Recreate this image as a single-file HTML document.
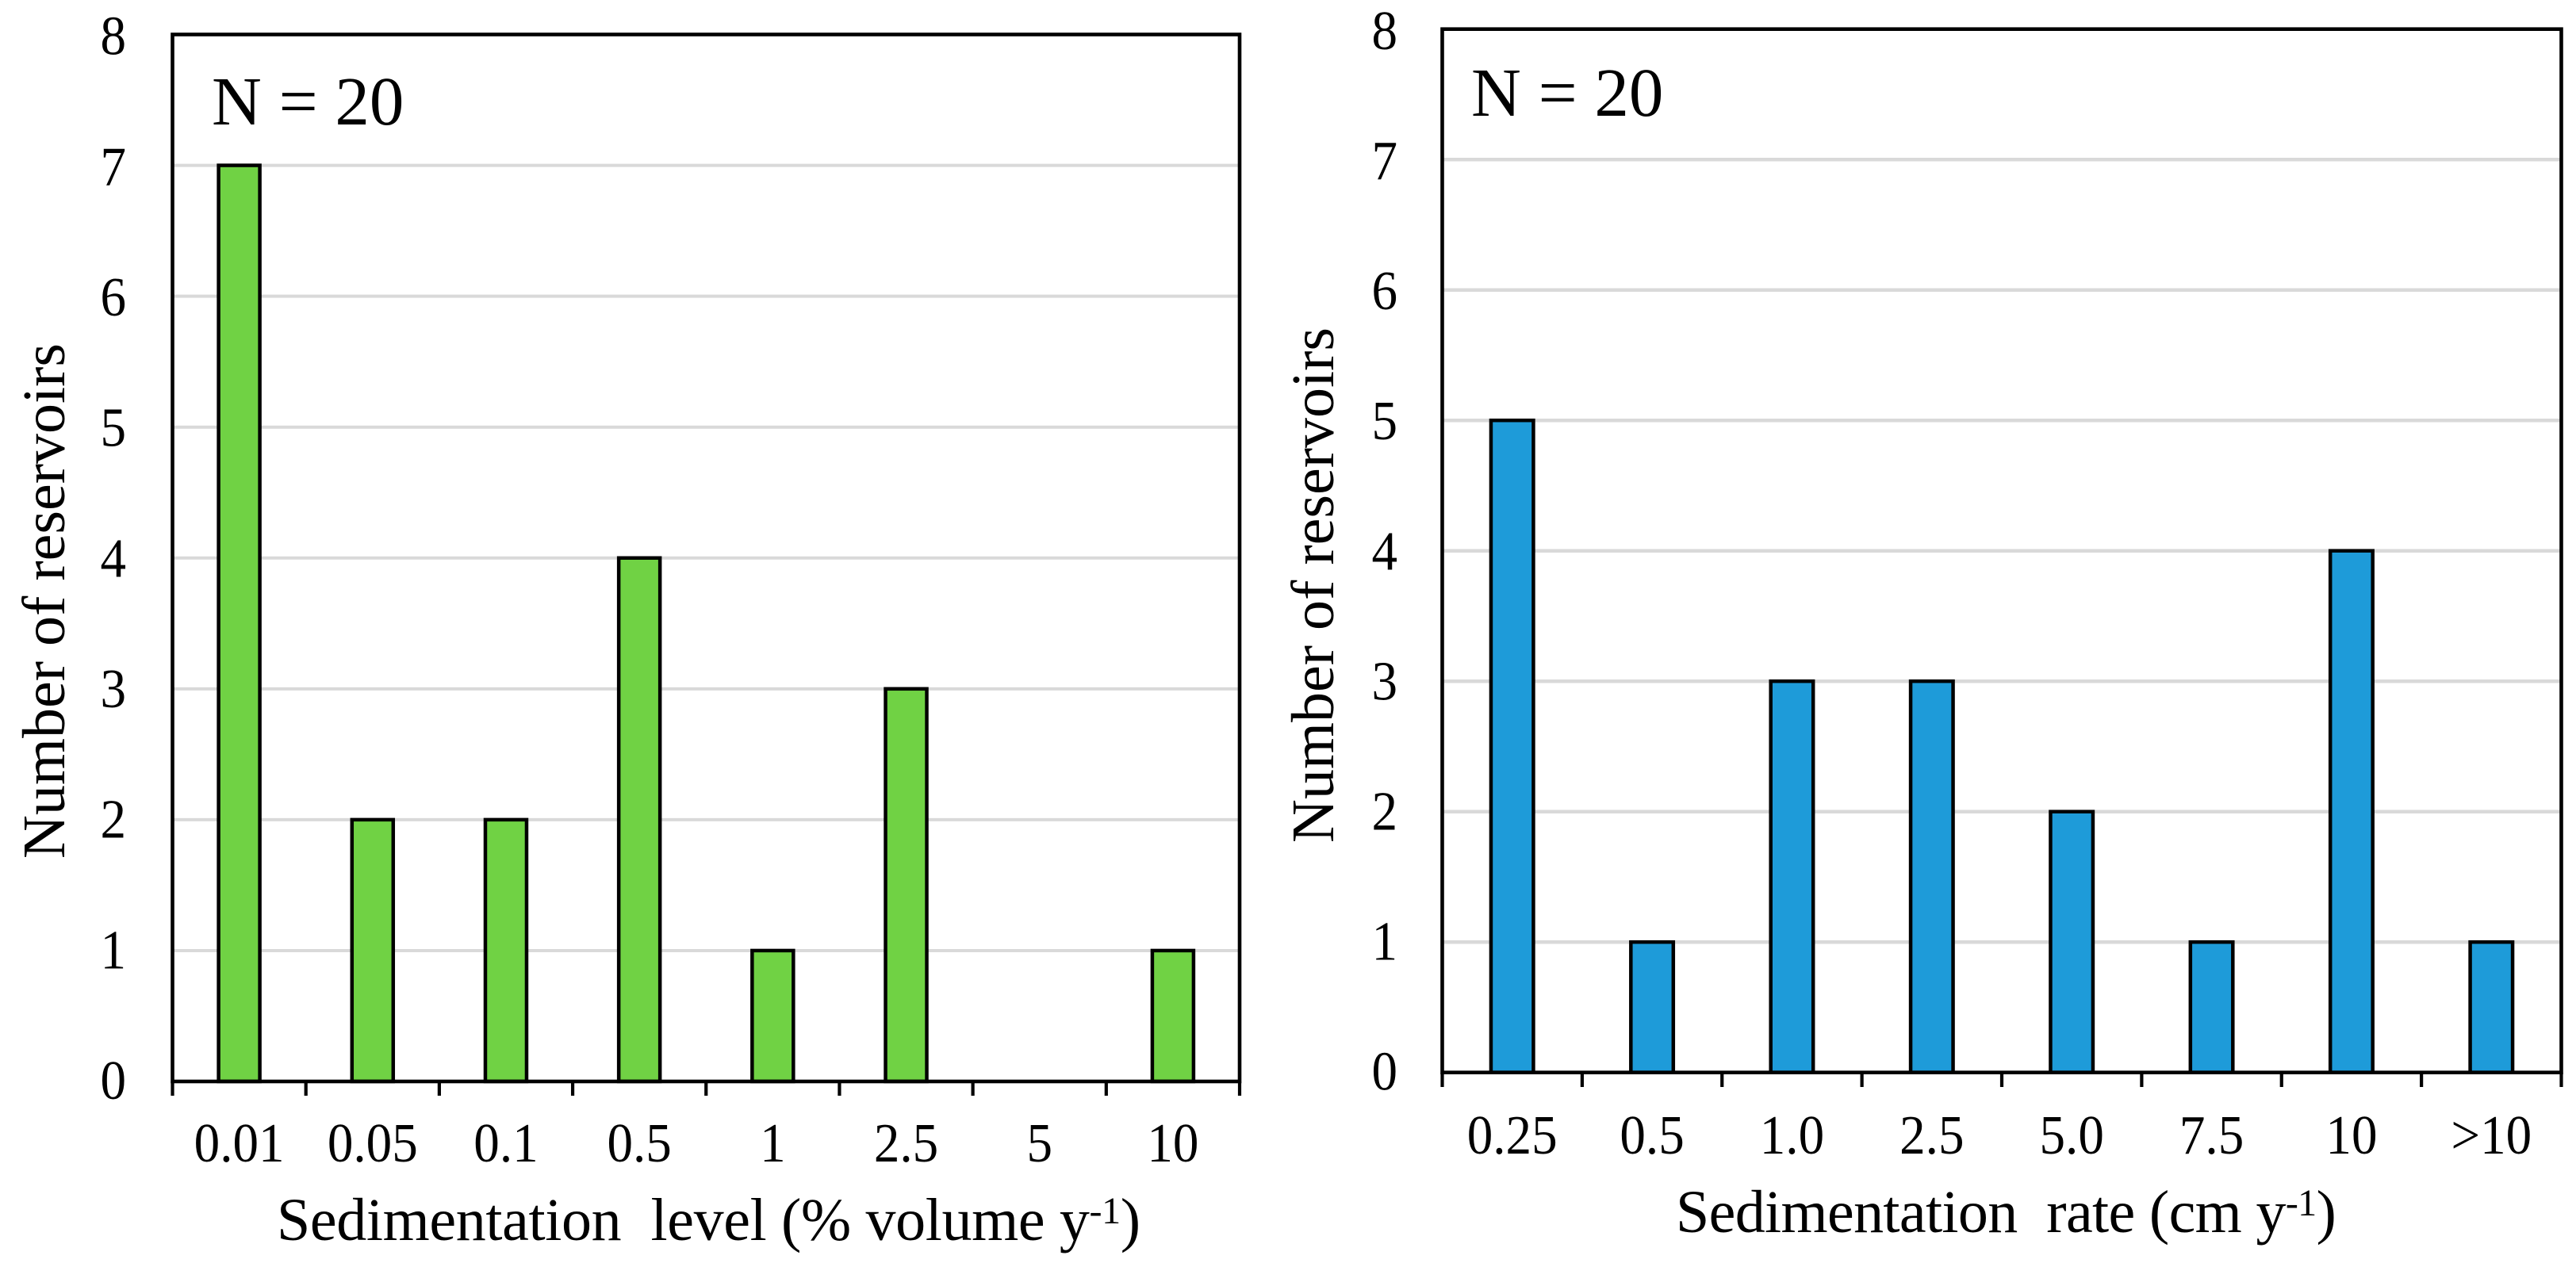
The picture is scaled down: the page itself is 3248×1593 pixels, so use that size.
<!DOCTYPE html>
<html lang="en">
<head>
<meta charset="utf-8">
<title>Reservoir sedimentation histograms</title>
<style>
html,body{margin:0;padding:0;background:#fff;}
svg{display:block;}
text{font-family:"Liberation Serif",serif;fill:#000;white-space:pre;}
</style>
</head>
<body>
<svg id="figure" xmlns="http://www.w3.org/2000/svg" width="3248" height="1593" viewBox="0 0 3248 1593">
<rect x="0" y="0" width="3248" height="1593" fill="#ffffff"/>
</svg>
<script>
const leftCategories = ["0.01","0.05","0.1","0.5","1","2.5","5","10"];
const leftValues = [7,2,2,4,1,3,0,1];
const rightCategories = ["0.25","0.5","1.0","2.5","5.0","7.5","10",">10"];
const rightValues = [5,1,3,3,2,1,4,1];
const yTickValues = [0,1,2,3,4,5,6,7,8];
const yMax = 8;
const sampleLabel = "N = 20";
const yAxisTitle = "Number of reservoirs";

const SVG_NS = "http://www.w3.org/2000/svg";
const fig = document.getElementById("figure");

function make(parent, tag, attrs, content) {
  const el = document.createElementNS(SVG_NS, tag);
  Object.keys(attrs).forEach(function (k) { el.setAttribute(k, attrs[k]); });
  if (content !== undefined) el.textContent = content;
  parent.appendChild(el);
  return el;
}

function drawChart(cfg) {
  const g = make(fig, "g", {});
  
  

  const band = (cfg.right - cfg.left) / cfg.categories.length;
  const xScale = function (i) { return cfg.left + band * (i + 0.5); };
  const yScale = function (v) { return cfg.bottom - (cfg.bottom - cfg.top) * v / yMax; };

  yTickValues.forEach(function (v) {
    if (v === 0 || v === yMax) return;
    const line = make(g, "line", { x1: cfg.left, x2: cfg.right, y1: yScale(v), y2: yScale(v), stroke: "#d9d9d9", "stroke-width": cfg.gridWidth });
    
    
  });

  cfg.values.forEach(function (v, i) {
    if (v <= 0) return;
    const bar = make(g, "rect", {
      x: xScale(i) - cfg.barWidth / 2,
      y: yScale(v),
      width: cfg.barWidth,
      height: yScale(0) - yScale(v),
      fill: cfg.color,
      stroke: "#000",
      "stroke-width": 4.5
    });
    
    
  });

  const frame = make(g, "rect", {
    x: cfg.left, y: cfg.top, width: cfg.right - cfg.left, height: cfg.bottom - cfg.top,
    fill: "none", stroke: "#000", "stroke-width": 4.6
  });
  
  

  for (let i = 0; i <= cfg.categories.length; i++) {
    const xt = cfg.left + band * i;
    const tick = make(g, "line", { x1: xt, x2: xt, y1: cfg.bottom, y2: cfg.tickEnd, stroke: "#000", "stroke-width": 4.2 });
    
    
  }

  yTickValues.forEach(function (v) {
    const t = make(g, "text", {
      transform: "translate(" + cfg.yLabelX + "," + (yScale(v) + 22 + 0.4 * v) + ") scale(0.93,1)",
      "text-anchor": "end",
      "font-size": 70
    }, String(v));
    
    
  });

  cfg.categories.forEach(function (c, i) {
    const t = make(g, "text", {
      transform: "translate(" + xScale(i) + "," + cfg.xLabelY + ") scale(0.93,1)",
      "text-anchor": "middle",
      "font-size": 70
    }, c);
    
    
  });

  const n = make(g, "text", { x: cfg.nX, y: cfg.nY, "font-size": 87 }, sampleLabel);
  
  

  const yt = make(g, "text", {
    transform: "translate(" + cfg.yTitleX + "," + cfg.yTitleY + ") rotate(-90)",
    "font-size": 76
  }, yAxisTitle);
  
  

  const xt = make(g, "text", { x: cfg.xTitleX, y: cfg.xTitleY, "font-size": 76, "letter-spacing": cfg.xTitleSpacing });
  
  
  make(xt, "tspan", {}, cfg.xTitle);
  make(xt, "tspan", { "font-size": 48, dy: -21 }, "-1");
  make(xt, "tspan", { dy: 21 }, ")");
}

drawChart({
  name: "chart-sedimentation-level",
  categories: leftCategories,
  values: leftValues,
  color: "#70d244",
  left: 217.5, right: 1563, top: 43.5, bottom: 1364,
  tickEnd: 1382, gridWidth: 4, barWidth: 52,
  yLabelX: 159, xLabelY: 1465,
  nX: 267, nY: 157,
  yTitleX: 81, yTitleY: 1083,
  xTitle: "Sedimentation  level (% volume y",
  xTitleX: 349, xTitleY: 1564, xTitleSpacing: -0.37
});

drawChart({
  name: "chart-sedimentation-rate",
  categories: rightCategories,
  values: rightValues,
  color: "#1e9bd9",
  left: 1818.5, right: 3229.5, top: 36.7, bottom: 1352.7,
  tickEnd: 1371, gridWidth: 4.5, barWidth: 53.5,
  yLabelX: 1762, xLabelY: 1455,
  nX: 1855, nY: 146,
  yTitleX: 1681, yTitleY: 1063,
  xTitle: "Sedimentation  rate (cm y",
  xTitleX: 2113, xTitleY: 1554, xTitleSpacing: -0.65
});
</script>
</body>
</html>
